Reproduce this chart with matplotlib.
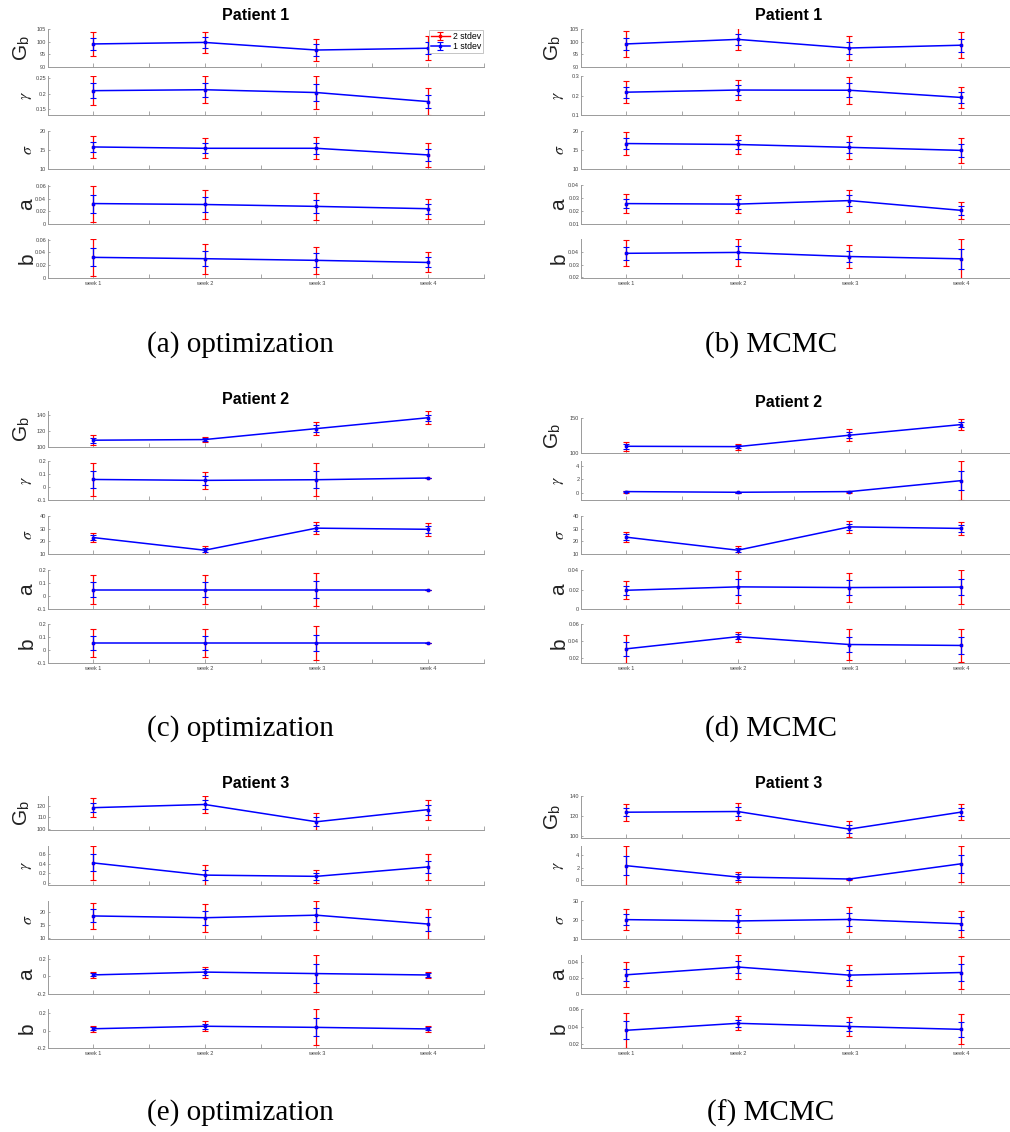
import numpy as np
import matplotlib
matplotlib.use('Agg')
import matplotlib.pyplot as plt

plt.rcParams['font.family'] = ['Liberation Sans', 'DejaVu Sans']
plt.rcParams['mathtext.fontset'] = 'stix'

# ---------------- data ----------------
weeks = [1, 2, 3, 4]
week_labels = ['week 1', 'week 2', 'week 3', 'week 4']
param_labels = [r'G$_\mathregular{b}$', r'$\gamma$', r'$\sigma$', 'a', 'b']
titles = ['Patient 1', 'Patient 1', 'Patient 2', 'Patient 2', 'Patient 3', 'Patient 3']
captions = ['(a) optimization', '(b) MCMC', '(c) optimization', '(d) MCMC',
            '(e) optimization', '(f) MCMC']
legend_labels = ['2 stdev', '1 stdev']

# rows: Gb, gamma, sigma, a, b ; columns: week 1..4 ; sd = 1 stdev
opt1_mean = [[99.1, 99.7, 96.7, 97.4],
             [0.210, 0.213, 0.204, 0.175],
             [15.8, 15.45, 15.45, 13.7],
             [0.0325, 0.031, 0.028, 0.0243],
             [0.0323, 0.0302, 0.0276, 0.0243]]
opt1_sd = [[2.3, 2.1, 2.2, 2.4],
           [0.0235, 0.022, 0.026, 0.021],
           [1.4, 1.3, 1.45, 1.6],
           [0.0143, 0.0117, 0.0108, 0.0078],
           [0.0143, 0.0117, 0.0108, 0.0078]]

mcmc1_mean = [[99.1, 100.9, 97.5, 98.6],
              [0.217, 0.228, 0.227, 0.19],
              [16.7, 16.45, 15.7, 14.9],
              [0.0257, 0.0253, 0.028, 0.0205],
              [0.0388, 0.0395, 0.0363, 0.0345]]
mcmc1_sd = [[2.5, 2.15, 2.3, 2.55],
            [0.028, 0.026, 0.035, 0.028],
            [1.5, 1.3, 1.5, 1.65],
            [0.0037, 0.0036, 0.0042, 0.0034],
            [0.0051, 0.0054, 0.0046, 0.0077]]

opt2_mean = [[108.5, 109.3, 123.0, 136.6],
             [0.058, 0.051, 0.056, 0.069],
             [23.0, 13.0, 30.4, 29.5],
             [0.049, 0.049, 0.049, 0.049],
             [0.053, 0.053, 0.053, 0.053]]
opt2_sd = [[3.1, 1.8, 4.2, 4.0],
           [0.063, 0.034, 0.064, 0.0],
           [1.9, 1.6, 2.5, 2.55],
           [0.055, 0.055, 0.064, 0.0],
           [0.055, 0.055, 0.064, 0.0]]

mcmc2_mean = [[109.6, 109.1, 125.4, 140.6],
              [0.2, 0.1, 0.2, 1.83],
              [23.3, 13.0, 31.4, 30.2],
              [0.0192, 0.0227, 0.022, 0.0225],
              [0.0308, 0.0451, 0.0359, 0.0348]]
mcmc2_sd = [[3.3, 2.1, 4.3, 3.8],
            [0.08, 0.04, 0.08, 1.45],
            [2.1, 1.6, 2.45, 2.6],
            [0.0047, 0.0081, 0.0073, 0.0086],
            [0.0083, 0.0029, 0.0091, 0.0098]]

opt3_mean = [[118.3, 121.1, 106.0, 116.6],
             [0.42, 0.163, 0.137, 0.335],
             [18.6, 17.9, 18.9, 15.4],
             [0.018, 0.05, 0.033, 0.017],
             [0.022, 0.051, 0.038, 0.02]]
opt3_sd = [[4.2, 3.9, 3.8, 4.4],
           [0.177, 0.105, 0.071, 0.135],
           [2.55, 2.75, 2.85, 2.9],
           [0.017, 0.031, 0.104, 0.018],
           [0.016, 0.03, 0.104, 0.018]]

mcmc3_mean = [[123.6, 124.3, 106.5, 123.7],
              [2.35, 0.53, 0.21, 2.65],
              [20.2, 19.5, 20.3, 18.0],
              [0.0241, 0.0339, 0.0237, 0.0270],
              [0.0359, 0.0438, 0.0402, 0.037]]
mcmc3_sd = [[4.2, 4.3, 4.2, 4.1],
            [1.55, 0.43, 0.05, 1.43],
            [2.7, 3.1, 3.3, 3.4],
            [0.0079, 0.0074, 0.0066, 0.0103],
            [0.01, 0.004, 0.0052, 0.0085]]

# ---------------- axis limits / ticks (layout) ----------------
ylims = [
    [(90, 105), (0.132, 0.257), (10, 20), (0, 0.062), (0, 0.061)],
    [(90, 105), (0.1, 0.3), (10, 20), (0.01, 0.04), (0.0195, 0.05)],
    [(100, 145), (-0.1, 0.2), (10, 40), (-0.1, 0.2), (-0.1, 0.2)],
    [(100, 150), (-1.05, 4.75), (10, 40), (0, 0.04), (0.0142, 0.06)],
    [(98.8, 128.5), (-0.045, 0.775), (9.5, 24.5), (-0.2, 0.245), (-0.2, 0.25)],
    [(97.5, 140), (-0.75, 5.5), (10, 30), (0, 0.049), (0.0159, 0.06)],
]
yticks = [
    [[90, 95, 100, 105], [0.15, 0.2, 0.25], [10, 15, 20], [0, 0.02, 0.04, 0.06], [0, 0.02, 0.04, 0.06]],
    [[90, 95, 100, 105], [0.1, 0.2, 0.3], [10, 15, 20], [0.01, 0.02, 0.03, 0.04], [0.02, 0.03, 0.04]],
    [[100, 120, 140], [-0.1, 0, 0.1, 0.2], [10, 20, 30, 40], [-0.1, 0, 0.1, 0.2], [-0.1, 0, 0.1, 0.2]],
    [[100, 150], [0, 2, 4], [10, 20, 30, 40], [0, 0.02, 0.04], [0.02, 0.04, 0.06]],
    [[100, 110, 120], [0, 0.2, 0.4, 0.6], [10, 15, 20], [-0.2, 0, 0.2], [-0.2, 0, 0.2]],
    [[100, 120, 140], [0, 2, 4], [10, 20, 30], [0, 0.02, 0.04], [0.02, 0.04, 0.06]],
]

panels_mean = [opt1_mean, mcmc1_mean, opt2_mean, mcmc2_mean, opt3_mean, mcmc3_mean]
panels_sd = [opt1_sd, mcmc1_sd, opt2_sd, mcmc2_sd, opt3_sd, mcmc3_sd]

W, H = 1010, 1132
fig = plt.figure(figsize=(W / 100, H / 100), dpi=100)


def rect(x0, x1, ytop, ybot):
    return [x0 / W, 1 - ybot / H, (x1 - x0) / W, (ybot - ytop) / H]


col_x = [(48.3, 484.0), (581.3, 1017.0)]
row_off = [0, 385, 770]
gb_rows = [(29, 67), (29, 67), (26, 62), (33, 68), (26, 60), (26, 68)]
other_rows = [(76, 115), (131, 169), (185, 224), (239, 278)]
title_y = [16, 16, 399, 402, 784, 784]
title_x = [256, 789]
caption_x = [240, 771]
caption_y = [345, 345, 729, 729, 1113, 1113]
ylab_x = [(22, 27), (553, 559)]

SPINE = '#9a9a9a'
TXT = '#444444'


def fmt(v):
    return ('%g' % v)


for p in range(6):
    col = p % 2
    row = p // 2
    off = row_off[row]
    x0, x1 = col_x[col]
    rows = [gb_rows[p]] + other_rows
    for k in range(5):
        yt, yb = rows[k]
        ax = fig.add_axes(rect(x0, x1, yt + off, yb + off))
        m = np.array(panels_mean[p][k])
        s = np.array(panels_sd[p][k])
        h2 = ax.errorbar(weeks, m, yerr=2 * s, color='red', ecolor='red', lw=1.0,
                         elinewidth=0.9, capsize=2.2, capthick=0.8, marker='s', ms=1.8)
        h1 = ax.errorbar(weeks, m, yerr=s, color='blue', ecolor='blue', lw=1.1,
                         elinewidth=0.9, capsize=2.2, capthick=0.8, marker='s', ms=1.8)
        ax.set_xlim(0.6, 4.5)
        ax.set_ylim(*ylims[p][k])
        ax.set_yticks(yticks[p][k])
        ax.set_yticklabels([fmt(v) for v in yticks[p][k]])
        ax.set_xticks(np.arange(1, 4.51, 0.5))
        if k == 4:
            labs = []
            for w in week_labels:
                labs += [w, '']
            ax.set_xticklabels(labs)
        else:
            ax.set_xticklabels([])
        for sp in ['top', 'right']:
            ax.spines[sp].set_visible(False)
        for sp in ['left', 'bottom']:
            ax.spines[sp].set_color(SPINE)
            ax.spines[sp].set_linewidth(0.7)
        ax.tick_params(axis='x', direction='in', length=3, width=0.6, color=SPINE,
                       labelsize=4, labelcolor=TXT, pad=2)
        ax.tick_params(axis='y', direction='in', length=1.5, width=0.6, color=SPINE,
                       labelsize=4, labelcolor=TXT, pad=1.5)
        ax.patch.set_alpha(0)
        # y label
        yc = (yt + yb) / 2 + off
        lx = ylab_x[col][0] if k == 0 else ylab_x[col][1]
        fs = 15 if k in (0, 3, 4) else 11.5
        fig.text(lx / W, 1 - yc / H, param_labels[k], rotation=90, ha='center',
                 va='center', fontsize=fs, color='#222222')
        if p == 0 and k == 0:
            leg = ax.legend([h2, h1], legend_labels, loc='upper right', fontsize=6.3,
                            handlelength=2.2, labelspacing=0.1, borderpad=0.25,
                            handletextpad=0.3, borderaxespad=0.1, fancybox=False,
                            framealpha=1)
            leg.get_frame().set_edgecolor('#bbbbbb')
            leg.get_frame().set_linewidth(0.6)
        # hide the red connecting line in the plot (legend keeps it)
        h2[0].set_linestyle('none')

    fig.text(title_x[col] / W, 1 - title_y[p] / H, titles[p], ha='center', va='center',
             fontsize=11.5, fontweight='bold', color='black')
    fig.text(caption_x[col] / W, 1 - caption_y[p] / H, captions[p], ha='center',
             va='center', fontsize=21, family=['Liberation Serif', 'DejaVu Serif'],
             color='black')

fig.savefig('out.png', dpi=100)
